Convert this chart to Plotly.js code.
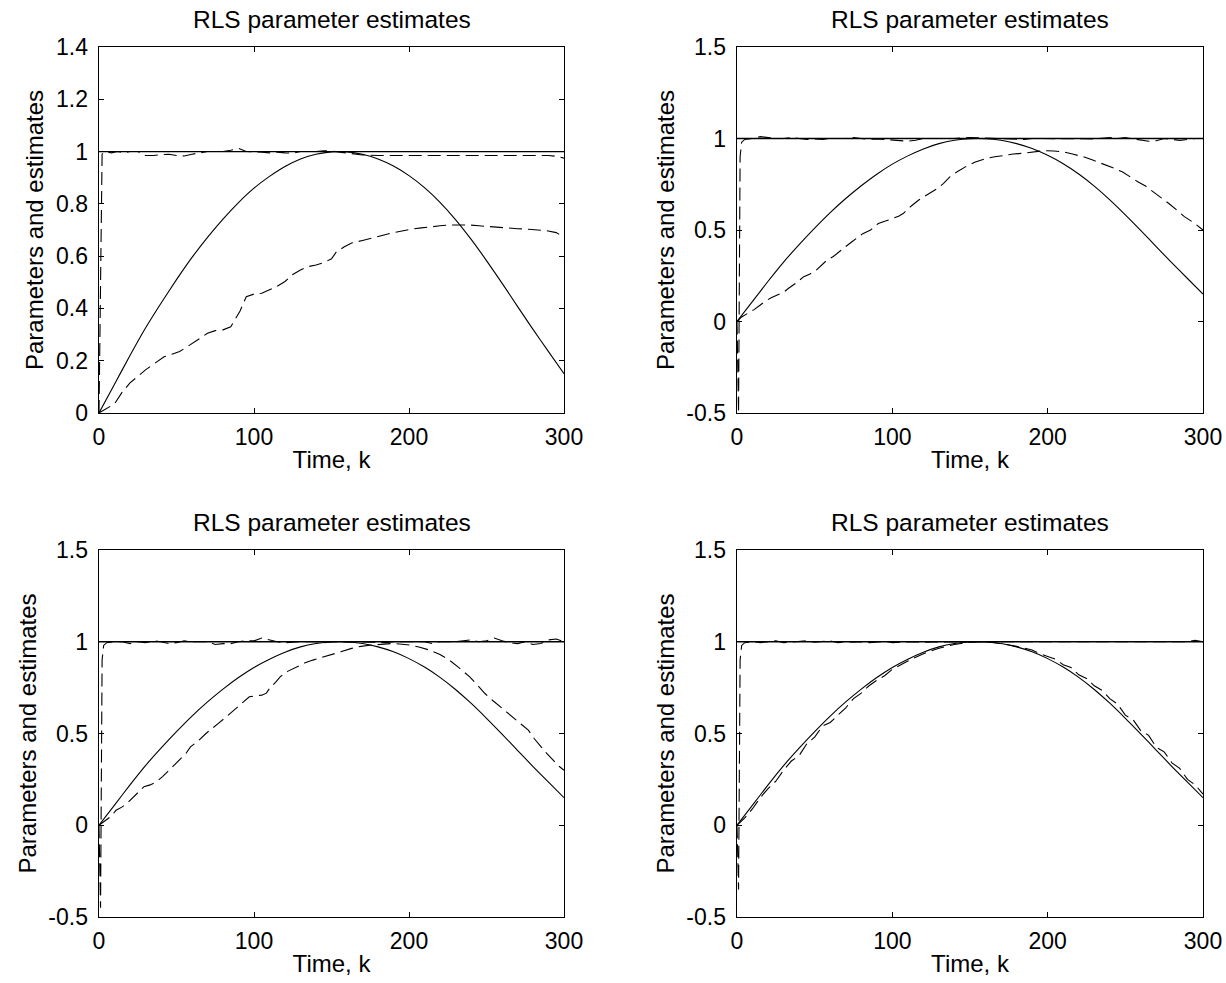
<!DOCTYPE html>
<html><head><meta charset="utf-8">
<script src="https://cdn.plot.ly/plotly-3.0.1.min.js"></script>
<style>html,body{margin:0;padding:0;background:#fff}#chart{width:1226px;height:983px}</style>
</head><body><div id="chart"></div>
<script>
// ---- true parameters ----
const kTrue = [0,10,20,30,40,50,60,70,80,90,100,110,120,130,140,150,160,170,180,190,200,210,220,230,240,250,260,270,280,290,300];
const trueSine = [0,0.11,0.22,0.325,0.42,0.51,0.595,0.672,0.742,0.805,0.86,0.905,0.943,0.972,0.99,0.999,0.999,0.99,0.972,0.945,0.908,0.862,0.806,0.74,0.665,0.583,0.497,0.408,0.32,0.235,0.15];
const kConst = [0,300];
const trueConst = [1,1];

// ---- panel 1 (top-left) ----
const tlEst1K = [0,1,2,4,8,12,16,20,25,30,35,40,45,50,55,60,65,70,75,80,85,90,95,100,105,110,115,120,125,130,135,140,145,150,155,160,165,170,180,190,200,210,220,230,240,250,260,270,280,290,295,300];
const tlEst1  = [0,0.55,0.99,1.0,0.995,1.0,0.995,1.0,1.0,0.985,0.985,0.988,0.99,0.985,0.983,0.99,0.995,1.0,1.0,1.0,1.005,1.012,1.0,1.0,0.998,0.995,0.998,0.995,0.994,1.0,1.0,1.0,1.003,1.002,0.998,0.995,0.99,0.987,0.985,0.985,0.986,0.985,0.985,0.985,0.985,0.985,0.985,0.985,0.985,0.985,0.982,0.975];
const tlEst2K = [0,3,6,10,15,20,25,30,36,42,47,52,56,60,65,70,75,80,85,88,91,95,100,105,110,115,120,125,130,135,140,145,150,153,158,163,170,176,182,188,195,201,208,214,220,226,232,239,245,251,258,264,270,277,283,289,295,300];
const tlEst2  = [0,0.01,0.02,0.035,0.08,0.115,0.14,0.165,0.19,0.215,0.225,0.235,0.25,0.267,0.285,0.305,0.315,0.318,0.33,0.36,0.39,0.445,0.455,0.458,0.47,0.485,0.503,0.53,0.547,0.56,0.566,0.575,0.59,0.615,0.635,0.65,0.66,0.668,0.678,0.687,0.695,0.703,0.708,0.713,0.716,0.719,0.72,0.719,0.716,0.713,0.71,0.706,0.705,0.703,0.7,0.697,0.69,0.672];

// ---- panel 2 (top-right) ----
const trEst1K = [0,1,2,3,5,10,15,20,25,30,35,40,45,50,55,60,65,70,75,80,85,90,95,100,105,110,115,120,130,140,150,160,170,180,185,190,200,210,220,230,240,245,250,255,260,265,270,275,280,285,290,295,300];
const trEst1  = [0,-0.5,0.9,0.98,0.995,1.0,1.01,1.005,1.0,1.0,1.005,1.0,0.995,0.998,0.995,1.0,1.0,1.0,1.005,1.0,0.995,0.998,0.995,0.995,0.99,0.985,0.99,1.0,1.0,1.0,1.005,1.002,1.0,1.0,0.995,1.0,1.0,1.0,1.0,0.998,1.005,1.0,1.005,0.998,0.99,0.985,0.988,1.0,0.995,0.99,0.995,1.0,1.0];
const trEst2K = [0,3,7,11,15,18,22,26,30,33,38,43,47,51,55,58,62,66,70,74,78,81,86,91,96,101,104,107,112,117,122,126,129,133,137,142,147,153,160,166,172,178,185,191,197,204,210,216,223,229,235,242,248,253,258,263,268,273,278,283,288,294,300];
const trEst2  = [0,0.025,0.045,0.065,0.09,0.11,0.13,0.145,0.16,0.18,0.21,0.245,0.26,0.28,0.31,0.336,0.355,0.38,0.41,0.436,0.46,0.48,0.5,0.536,0.55,0.564,0.575,0.59,0.63,0.664,0.69,0.71,0.727,0.755,0.79,0.82,0.845,0.87,0.89,0.9,0.909,0.915,0.92,0.926,0.933,0.932,0.927,0.915,0.9,0.882,0.864,0.84,0.818,0.79,0.764,0.74,0.71,0.68,0.645,0.61,0.573,0.54,0.5];

// ---- panel 3 (bottom-left) ----
const blEst1K = [0,1,2,3,5,10,15,20,25,30,35,40,45,50,55,60,65,70,75,80,85,90,95,100,105,110,115,120,130,140,145,150,160,170,175,185,190,200,210,215,220,230,240,245,250,255,260,265,270,275,280,285,290,295,300];
const blEst1  = [0,-0.45,0.9,0.98,0.995,1.0,1.0,0.99,1.0,0.995,1.005,1.0,0.99,0.995,1.005,1.0,1.0,1.0,0.985,0.99,0.99,1.0,1.005,1.005,1.02,1.01,1.0,0.995,1.0,1.0,0.995,1.0,1.0,1.0,0.998,0.995,1.0,1.0,1.0,0.99,1.0,1.0,1.01,1.0,1.005,1.02,1.005,0.995,0.99,1.0,0.985,0.99,1.01,1.015,1.0];
const blEst2K = [0,4,8,11,15,19,24,29,33,37,41,44,48,52,56,59,64,69,73,77,82,87,92,97,101,105,108,110,114,117,122,128,133,138,144,150,156,163,169,176,182,188,194,201,207,213,220,226,232,239,244,249,254,259,264,269,273,277,281,285,289,293,297,300];
const blEst2  = [0,0.027,0.05,0.082,0.1,0.127,0.17,0.21,0.22,0.236,0.265,0.29,0.32,0.355,0.39,0.427,0.46,0.5,0.53,0.555,0.59,0.627,0.665,0.7,0.705,0.709,0.72,0.745,0.78,0.81,0.84,0.864,0.885,0.9,0.915,0.927,0.945,0.964,0.975,0.982,0.988,0.99,0.988,0.982,0.97,0.955,0.93,0.9,0.86,0.81,0.765,0.718,0.68,0.645,0.61,0.573,0.545,0.518,0.47,0.427,0.39,0.355,0.32,0.3];

// ---- panel 4 (bottom-right) ----
const brEst1K = [0,1,2,3,5,10,15,20,25,30,35,40,45,50,55,60,65,70,75,80,85,90,95,100,110,120,130,140,150,160,170,180,190,200,210,220,230,240,250,260,270,280,290,295,300];
const brEst1  = [0,-0.35,0.9,0.98,0.995,1.0,0.995,1.0,1.005,0.995,0.998,1.0,1.005,0.998,1.0,1.005,0.995,1.0,0.998,1.0,0.995,1.0,1.002,0.995,1.0,0.998,1.0,1.0,1.0,1.0,1.0,1.0,0.998,1.0,1.0,0.998,1.0,1.0,0.998,1.0,1.0,0.998,1.0,1.008,1.0];
const brEst2K = [0,5,10,15,20,25,30,35,40,45,50,55,60,65,70,75,80,85,90,95,100,110,120,130,140,150,160,170,180,190,195,200,205,210,215,220,225,230,235,240,245,250,255,260,265,270,275,280,285,290,295,300];
const brEst2  = [0,0.04,0.09,0.15,0.2,0.24,0.3,0.35,0.38,0.445,0.48,0.54,0.56,0.6,0.64,0.69,0.72,0.76,0.79,0.815,0.85,0.895,0.935,0.965,0.985,0.998,1.0,0.99,0.975,0.955,0.935,0.92,0.905,0.875,0.86,0.82,0.8,0.76,0.735,0.69,0.66,0.6,0.575,0.515,0.49,0.425,0.4,0.34,0.31,0.25,0.22,0.17];

// ---- tick labels ----
const xTicks = [0,100,200,300];
const yTicksTL = [0,0.2,0.4,0.6,0.8,1,1.2,1.4];
const yTextTL = ['0','0.2','0.4','0.6','0.8','1','1.2','1.4'];
const yTicks = [-0.5,0,0.5,1,1.5];
const yText = ['-0.5','0','0.5','1','1.5'];

const titleText = 'RLS parameter estimates';
const xTitle = 'Time, k';
const yTitle = 'Parameters and estimates';

const FONT = 'Liberation Sans, Arial, Helvetica, sans-serif';
const DASH = '13px,6px';

const panels = [
  {xa:'x',  ya:'y',  e1k:tlEst1K, e1:tlEst1, e2k:tlEst2K, e2:tlEst2},
  {xa:'x2', ya:'y2', e1k:trEst1K, e1:trEst1, e2k:trEst2K, e2:trEst2},
  {xa:'x3', ya:'y3', e1k:blEst1K, e1:blEst1, e2k:blEst2K, e2:blEst2},
  {xa:'x4', ya:'y4', e1k:brEst1K, e1:brEst1, e2k:brEst2K, e2:brEst2}
];

const traces = [];
panels.forEach(p => {
  traces.push({x:kConst, y:trueConst, xaxis:p.xa, yaxis:p.ya, mode:'lines', line:{color:'#000', width:1.3}, showlegend:false, hoverinfo:'skip'});
  traces.push({x:kTrue, y:trueSine, xaxis:p.xa, yaxis:p.ya, mode:'lines', line:{color:'#000', width:1.1, shape:'spline', smoothing:0.6}, showlegend:false, hoverinfo:'skip'});
  traces.push({x:p.e1k, y:p.e1, xaxis:p.xa, yaxis:p.ya, mode:'lines', line:{color:'#000', width:1.1, dash:DASH}, showlegend:false, hoverinfo:'skip'});
  traces.push({x:p.e2k, y:p.e2, xaxis:p.xa, yaxis:p.ya, mode:'lines', line:{color:'#000', width:1.1, dash:DASH}, showlegend:false, hoverinfo:'skip'});
});

function axBase() {
  return {
    showline:true, linecolor:'#000', linewidth:1.4, mirror:'ticks',
    ticks:'inside', ticklen:5, tickwidth:1, tickcolor:'#000',
    showgrid:false, zeroline:false, fixedrange:true,
    tickfont:{family:FONT, size:23, color:'#000'}
  };
}
function xAx(domain, anchor) {
  return Object.assign(axBase(), {
    domain:domain, anchor:anchor, range:[0,300],
    tickmode:'array', tickvals:xTicks, ticklabelstandoff:3,
    title:{text:xTitle, font:{family:FONT, size:24, color:'#000'}, standoff:2}
  });
}
function yAx(domain, anchor, tv, tt, rng) {
  return Object.assign(axBase(), {
    domain:domain, anchor:anchor, range:rng,
    tickmode:'array', tickvals:tv, ticktext:tt, ticklabelstandoff:5,
    title:{text:yTitle, font:{family:FONT, size:24, color:'#000'}, standoff:5}
  });
}

const xL = [99/1226, 564/1226];
const xR = [737/1226, 1203/1226];
const yT = [1-413/983, 1-47/983];
const yB = [1-917/983, 1-550/983];

const annotations = [
  {x:(xL[0]+xL[1])/2, y:yT[1]},
  {x:(xR[0]+xR[1])/2, y:yT[1]},
  {x:(xL[0]+xL[1])/2, y:yB[1]},
  {x:(xR[0]+xR[1])/2, y:yB[1]}
].map(a => ({x:a.x, y:a.y, xref:'paper', yref:'paper', xanchor:'center', yanchor:'bottom',
  yshift:12, showarrow:false, text:titleText, font:{family:FONT, size:24.5, color:'#000'}}));

const layout = {
  width:1226, height:983,
  margin:{l:0, r:0, t:0, b:0},
  paper_bgcolor:'#fff', plot_bgcolor:'#fff',
  showlegend:false,
  font:{family:FONT, color:'#000'},
  xaxis: xAx(xL, 'y'),
  yaxis: yAx(yT, 'x', yTicksTL, yTextTL, [0,1.4]),
  xaxis2: xAx(xR, 'y2'),
  yaxis2: yAx(yT, 'x2', yTicks, yText, [-0.5,1.5]),
  xaxis3: xAx(xL, 'y3'),
  yaxis3: yAx(yB, 'x3', yTicks, yText, [-0.5,1.5]),
  xaxis4: xAx(xR, 'y4'),
  yaxis4: yAx(yB, 'x4', yTicks, yText, [-0.5,1.5]),
  annotations: annotations
};

Plotly.newPlot('chart', traces, layout, {displayModeBar:false, staticPlot:true});
</script>
</body></html>
